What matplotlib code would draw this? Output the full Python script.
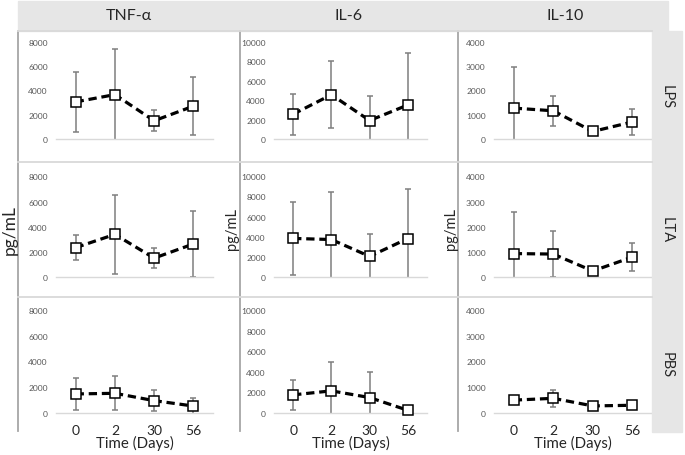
import matplotlib
matplotlib.use("Agg")
import matplotlib.pyplot as plt
from matplotlib.lines import Line2D
from matplotlib.patches import Rectangle

plt.rcParams['font.family'] = ['Lato', 'DejaVu Sans']

days = ["0", "2", "30", "56"]
cytokines = ["TNF-α", "IL-6", "IL-10"]
treatments = ["LPS", "LTA", "PBS"]
y_max = [8000, 10000, 4000]

# means / SD per treatment (rows) and cytokine (cols)
tnf_lps_mean = [3050, 3650, 1500, 2700]
tnf_lps_sd = [2450, 3750, 880, 2380]
il6_lps_mean = [2550, 4550, 1900, 3500]
il6_lps_sd = [2100, 3450, 2500, 5300]
il10_lps_mean = [1270, 1160, 310, 700]
il10_lps_sd = [1700, 620, 80, 530]

tnf_lta_mean = [2350, 3400, 1520, 2640]
tnf_lta_sd = [1000, 3150, 770, 2580]
il6_lta_mean = [3850, 3740, 2070, 3840]
il6_lta_sd = [3600, 4700, 2200, 4900]
il10_lta_mean = [940, 920, 250, 800]
il10_lta_sd = [1650, 900, 80, 570]

tnf_pbs_mean = [1480, 1530, 960, 540]
tnf_pbs_sd = [1220, 1330, 830, 620]
il6_pbs_mean = [1760, 2150, 1500, 260]
il6_pbs_sd = [1450, 2800, 2500, 100]
il10_pbs_mean = [500, 570, 275, 300]
il10_pbs_sd = [60, 320, 60, 60]

means = [[tnf_lps_mean, il6_lps_mean, il10_lps_mean],
         [tnf_lta_mean, il6_lta_mean, il10_lta_mean],
         [tnf_pbs_mean, il6_pbs_mean, il10_pbs_mean]]
sds = [[tnf_lps_sd, il6_lps_sd, il10_lps_sd],
       [tnf_lta_sd, il6_lta_sd, il10_lta_sd],
       [tnf_pbs_sd, il6_pbs_sd, il10_pbs_sd]]

W, H = 685, 456
fig = plt.figure(figsize=(W / 100, H / 100), dpi=100)

def fx(px):
    return px / W

def fy(py):
    return 1 - py / H

# header band and right strip
fig.patches.append(Rectangle((fx(18), fy(32)), fx(668) - fx(18), fy(2) - fy(32),
                             transform=fig.transFigure, color="#e6e6e6", zorder=0))
fig.patches.append(Rectangle((fx(652), fy(433)), fx(682) - fx(652), fy(32) - fy(433),
                             transform=fig.transFigure, color="#e6e6e6", zorder=0))

# panel grid lines
for xv in [18, 240, 458]:
    fig.lines.append(Line2D([fx(xv), fx(xv)], [fy(32), fy(432)], transform=fig.transFigure,
                            color="#a6a6a6", lw=1.3))
for yv in [32, 163, 298]:
    fig.lines.append(Line2D([fx(18), fx(652)], [fy(yv), fy(yv)], transform=fig.transFigure,
                            color="#d9d9d9", lw=1.3))

col_x = [(56, 213), (274, 427), (494, 652)]
row_y = [(42.7, 140), (177.3, 278.3), (311, 414)]
header_x = [129, 349, 565]
strip_y = [97, 230, 365]

for r in range(3):
    for c in range(3):
        x0, x1 = col_x[c]
        yt, yb = row_y[r]
        ax = fig.add_axes([fx(x0), fy(yb), fx(x1) - fx(x0), fy(yt) - fy(yb)])
        ax.set_facecolor("none")
        xs = list(range(len(days)))
        m = means[r][c]
        s = sds[r][c]
        ax.errorbar(xs, m, yerr=s, fmt="none", ecolor="#7f7f7f", elinewidth=1.1,
                    capsize=2.2, capthick=1.1, zorder=2)
        ax.plot(xs, m, color="black", lw=2.3, dashes=(2.6, 1.5), zorder=3,
                solid_capstyle="butt", dash_capstyle="butt")
        ax.plot(xs, m, ls="none", marker="s", ms=7.6, mfc="white", mec="black",
                mew=1.1, zorder=4, clip_on=False)
        ax.set_xlim(-0.5, 3.5)
        ax.set_ylim(0, y_max[c])
        step = y_max[c] // 4 if c != 1 else 2000
        ax.set_yticks(list(range(0, y_max[c] + 1, step)))
        ax.tick_params(axis="y", length=0, labelsize=6.1, labelcolor="#595959", pad=6)
        for sp in ["top", "right", "left"]:
            ax.spines[sp].set_visible(False)
        ax.spines["bottom"].set_color("#d9d9d9")
        ax.spines["bottom"].set_linewidth(1.0)
        if r == 2:
            ax.set_xticks(xs)
            ax.set_xticklabels(days)
            ax.tick_params(axis="x", length=0, labelsize=10, labelcolor="#262626", pad=8)
            ax.set_xlabel("Time (Days)", fontsize=10.8, color="#262626", labelpad=-1)
        else:
            ax.set_xticks([])

for c in range(3):
    fig.text(fx(header_x[c]), fy(16), cytokines[c], ha="center", va="center",
             fontsize=11.5, color="#262626")
for r in range(3):
    fig.text(fx(667), fy(strip_y[r]), treatments[r], ha="center", va="center",
             rotation=-90, fontsize=10.5, color="#262626")

fig.text(fx(10), fy(230), "pg/mL", ha="center", va="center", rotation=90,
         fontsize=12.5, color="#262626")
fig.text(fx(232), fy(229), "pg/mL", ha="center", va="center", rotation=90,
         fontsize=10.5, color="#262626")
fig.text(fx(451), fy(229), "pg/mL", ha="center", va="center", rotation=90,
         fontsize=10.5, color="#262626")

fig.savefig("out.png", dpi=100)
